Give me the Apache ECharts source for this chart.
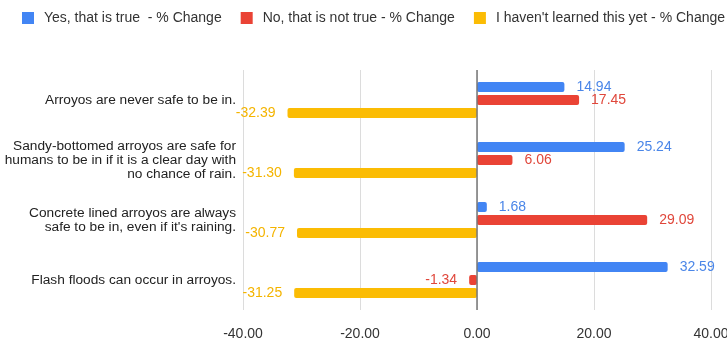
<!DOCTYPE html>
<html>
<head>
<meta charset="utf-8">
<script src="https://cdn.jsdelivr.net/npm/echarts@6/dist/echarts.min.js"></script>
<style>
  html, body { margin: 0; padding: 0; background: #fff; }
  #app { width: 727px; height: 349px; }
</style>
</head>
<body>
<div id="app"></div>
<script>
var categories = [
  'Arroyos are never safe to be in.',
  'Sandy-bottomed arroyos are safe for\nhumans to be in if it is a clear day with\nno chance of rain.',
  'Concrete lined arroyos are always\nsafe to be in, even if it\'s raining.',
  'Flash floods can occur in arroyos.'
];
var yesValues = [14.94, 25.24, 1.68, 32.59];
var noValues = [17.45, 6.06, 29.09, -1.34];
var notLearnedValues = [-32.39, -31.30, -30.77, -31.25];
var xTicks = [-40, -20, 0, 20, 40];

var fontFamily = '"Liberation Sans", Arial, sans-serif';

function withLabels(values, color) {
  return values.map(function (v) {
    return {
      value: v,
      label: {
        show: true,
        position: v < 0 ? 'left' : 'right',
        distance: 12,
        color: color,
        fontSize: 14,
        fontFamily: fontFamily,
        formatter: function (p) { return p.value.toFixed(2); }
      }
    };
  });
}

var myChart = echarts.init(document.getElementById('app'));
myChart.setOption({
  backgroundColor: '#fff',
  animation: false,
  legend: {
    left: 22,
    right: 0,
    top: 11,
    padding: 0,
    itemWidth: 12,
    itemHeight: 12,
    itemGap: 19,
    icon: 'rect',
    textStyle: { fontSize: 14, color: '#333', fontFamily: fontFamily, padding: [0, 0, 0, 5] },
    data: ['Yes, that is true  - % Change', 'No, that is not true - % Change', 'I haven\'t learned this yet - % Change']
  },
  grid: {
    left: 243,
    right: 16,
    top: 70,
    bottom: 39,
    containLabel: false,
    outerBoundsMode: 'none'
  },
  xAxis: {
    type: 'value',
    min: xTicks[0],
    max: xTicks[xTicks.length - 1],
    interval: 20,
    axisLine: { show: false },
    axisTick: { show: false },
    splitLine: { lineStyle: { color: '#dcdcdc' } },
    axisLabel: {
      color: '#333',
      fontSize: 14,
      fontFamily: fontFamily,
      margin: 17,
      formatter: function (v) { return v.toFixed(2); }
    }
  },
  yAxis: {
    type: 'category',
    inverse: true,
    data: categories,
    axisLine: { show: false },
    axisTick: { show: false },
    axisLabel: {
      color: '#222',
      fontSize: 13.7,
      lineHeight: 14,
      fontFamily: fontFamily,
      margin: 7,
      align: 'right'
    }
  },
  series: [
    {
      name: 'Yes, that is true  - % Change',
      type: 'bar',
      data: withLabels(yesValues, '#4a86e8'),
      barWidth: 10,
      barGap: '30%',
      itemStyle: { color: '#4285f4', borderRadius: 2 },
      markLine: {
        silent: true,
        symbol: 'none',
        label: { show: false },
        lineStyle: { color: '#777', type: 'solid', width: 1.5 },
        data: [{ xAxis: 0 }]
      }
    },
    {
      name: 'No, that is not true - % Change',
      type: 'bar',
      data: withLabels(noValues, '#e0473b'),
      barWidth: 10,
      barGap: '30%',
      itemStyle: { color: '#ea4335', borderRadius: 2 }
    },
    {
      name: 'I haven\'t learned this yet - % Change',
      type: 'bar',
      data: withLabels(notLearnedValues, '#f4b400'),
      barWidth: 10,
      barGap: '30%',
      itemStyle: { color: '#fbbc04', borderRadius: 2 }
    }
  ]
});
</script>
</body>
</html>
